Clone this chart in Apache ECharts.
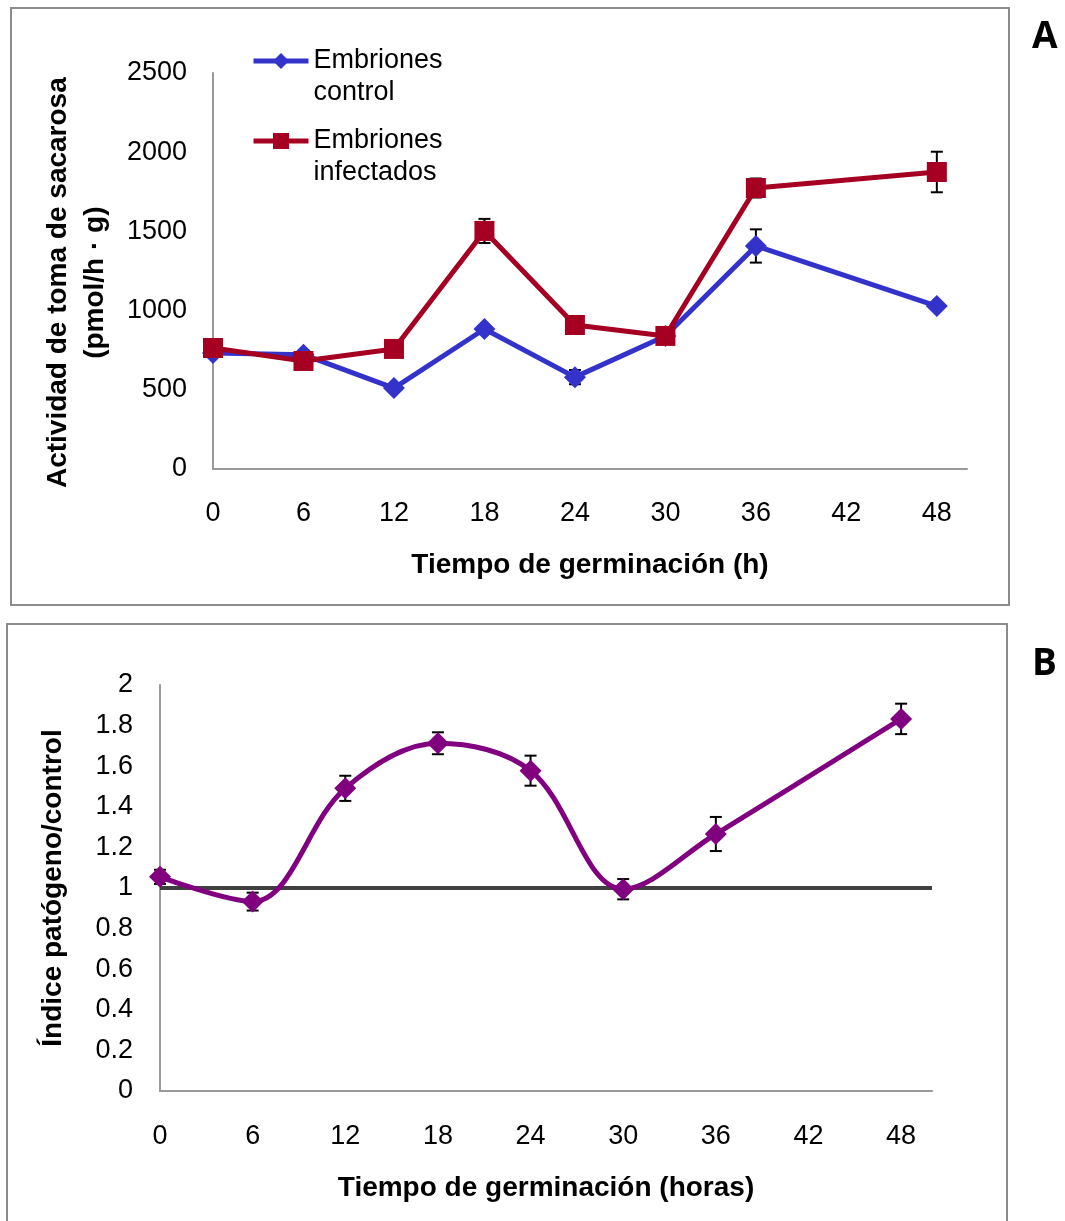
<!DOCTYPE html>
<html>
<head>
<meta charset="utf-8">
<script src="https://cdn.jsdelivr.net/npm/echarts@6/dist/echarts.min.js"></script>
<style>
html,body{margin:0;padding:0;background:#fff;}
#chart{width:1065px;height:1221px;}
</style>
</head>
<body>
<div id="chart"></div>
<script>
// ---- Data ----
var hours = [0, 6, 12, 18, 24, 30, 36, 48];
var xTicks = [0, 6, 12, 18, 24, 30, 36, 42, 48];
var controlVals = [732, 722, 511, 884, 580, 840, 1408, 1029];
var controlErr = [20, 25, 20, 20, 45, 20, 105, 20];
var infectedVals = [764, 682, 758, 1503, 909, 840, 1774, 1875];
var infectedErr = [20, 20, 20, 76, 20, 20, 60, 128];
var ratioVals = [1.055, 0.933, 1.491, 1.713, 1.578, 0.994, 1.266, 1.833];
var ratioErr = [0.035, 0.044, 0.062, 0.054, 0.074, 0.05, 0.084, 0.075];
var refLine = [[0, 1], [50, 1]];
var seriesNames = ['Embriones control', 'Embriones infectados'];
var legendLabels = { 'Embriones control': 'Embriones\ncontrol', 'Embriones infectados': 'Embriones\ninfectados' };

var FONT = '"Liberation Sans", Arial, sans-serif';

function pairs(xs, ys) { return xs.map(function (x, i) { return [x, ys[i]]; }); }
function errData(xs, ys, es) { return xs.map(function (x, i) { return [x, ys[i] - es[i], ys[i] + es[i]]; }); }

function errorSeries(xi, yi, data) {
  return {
    type: 'custom', xAxisIndex: xi, yAxisIndex: yi, z: 1, silent: true,
    data: data,
    renderItem: function (params, api) {
      var x = api.value(0);
      var lo = api.coord([x, api.value(1)]);
      var hi = api.coord([x, api.value(2)]);
      var w = 6;
      var st = { stroke: '#000', lineWidth: 2 };
      return {
        type: 'group',
        children: [
          { type: 'line', shape: { x1: lo[0], y1: lo[1], x2: hi[0], y2: hi[1] }, style: st },
          { type: 'line', shape: { x1: lo[0] - w, y1: lo[1], x2: lo[0] + w, y2: lo[1] }, style: st },
          { type: 'line', shape: { x1: hi[0] - w, y1: hi[1], x2: hi[0] + w, y2: hi[1] }, style: st }
        ]
      };
    }
  };
}

var axisLabelStyle = { color: '#000', fontSize: 27, fontFamily: FONT };
var nameStyle = { color: '#000', fontSize: 28, fontWeight: 'bold', fontFamily: FONT };
var axisLine = { show: true, lineStyle: { color: '#999', width: 2 } };
var xFmt = function (v) { return xTicks.indexOf(v) >= 0 ? String(v) : ''; };
var pad = '\u00a0\u00a0\u00a0';

var chart = echarts.init(document.getElementById('chart'), null, { renderer: 'canvas' });
chart.setOption({
  backgroundColor: '#fff',
  animation: false,
  graphic: [
    { type: 'rect', shape: { x: 11, y: 8, width: 998, height: 597 }, style: { fill: 'none', stroke: '#8c8c8c', lineWidth: 2 }, z: -1 },
    { type: 'rect', shape: { x: 7, y: 624, width: 1000, height: 610 }, style: { fill: 'none', stroke: '#8c8c8c', lineWidth: 2 }, z: -1 },
    { type: 'text', left: 1032, top: 19, style: { text: 'A', fontSize: 37, fontWeight: 'bold', fontFamily: '"Open Sans", sans-serif', fill: '#000' } },
    { type: 'text', left: 1032, top: 646, style: { text: 'B', fontSize: 37, fontWeight: 'bold', fontFamily: '"Open Sans", sans-serif', fill: '#000' } }
  ],
  legend: {
    data: seriesNames,
    orient: 'vertical',
    left: 251, top: 13, padding: 0,
    itemWidth: 55, itemHeight: 20, itemGap: -16,
    formatter: function (n) { return ' \n' + legendLabels[n]; },
    lineStyle: { width: 5 },
    textStyle: { color: '#000', fontSize: 27, fontFamily: FONT, lineHeight: 32 },
    selectedMode: false
  },
  grid: [
    { left: 213, top: 73, width: 754, height: 396 },
    { left: 160, top: 685, width: 772, height: 406 }
  ],
  xAxis: [
    {
      gridIndex: 0, type: 'value', min: 0, max: 50, interval: 6,
      name: 'Tiempo de germinación (h)', nameLocation: 'middle', nameGap: 82, nameTextStyle: nameStyle,
      axisLine: axisLine, axisTick: { show: false }, splitLine: { show: false },
      axisLabel: Object.assign({ margin: 31, showMaxLabel: false, formatter: xFmt }, axisLabelStyle)
    },
    {
      gridIndex: 1, type: 'value', min: 0, max: 50, interval: 6,
      name: 'Tiempo de germinación (horas)', nameLocation: 'middle', nameGap: 83, nameTextStyle: nameStyle,
      axisLine: axisLine, axisTick: { show: false }, splitLine: { show: false },
      axisLabel: Object.assign({ margin: 32, showMaxLabel: false, formatter: xFmt }, axisLabelStyle)
    }
  ],
  yAxis: [
    {
      gridIndex: 0, type: 'value', min: 0, max: 2500, interval: 500,
      name: 'Actividad de toma de sacarosa' + pad + '\n(pmol/h · g)' + pad, nameLocation: 'middle', nameGap: 99, nameRotate: 90,
      nameTextStyle: Object.assign({ lineHeight: 37 }, nameStyle),
      axisLine: axisLine, axisTick: { show: false }, splitLine: { show: false },
      axisLabel: Object.assign({ margin: 26, formatter: function (v) { return String(v); } }, axisLabelStyle)
    },
    {
      gridIndex: 1, type: 'value', min: 0, max: 2, interval: 0.2,
      name: 'Índice patógeno/control', nameLocation: 'middle', nameGap: 93, nameRotate: 90,
      nameTextStyle: nameStyle,
      axisLine: axisLine, axisTick: { show: false }, splitLine: { show: false },
      axisLabel: Object.assign({ margin: 27, formatter: function (v) { return String(Math.round(v * 10) / 10); } }, axisLabelStyle)
    }
  ],
  series: [
    errorSeries(0, 0, errData(hours, controlVals, controlErr)),
    errorSeries(0, 0, errData(hours, infectedVals, infectedErr)),
    {
      name: seriesNames[0], type: 'line', xAxisIndex: 0, yAxisIndex: 0, z: 3,
      data: pairs(hours, controlVals),
      symbol: 'diamond', symbolSize: 22,
      lineStyle: { color: '#3333CC', width: 5 },
      itemStyle: { color: '#3333CC' }
    },
    {
      name: seriesNames[1], type: 'line', xAxisIndex: 0, yAxisIndex: 0, z: 4,
      data: pairs(hours, infectedVals),
      symbol: 'rect', symbolSize: 20,
      lineStyle: { color: '#A50021', width: 5 },
      itemStyle: { color: '#A50021' }
    },
    {
      type: 'line', xAxisIndex: 1, yAxisIndex: 1, z: 2, silent: true,
      data: refLine, symbol: 'none',
      lineStyle: { color: '#404040', width: 4 }
    },
    errorSeries(1, 1, errData(hours, ratioVals, ratioErr)),
    {
      type: 'line', xAxisIndex: 1, yAxisIndex: 1, z: 4,
      data: pairs(hours, ratioVals), smooth: 0.35,
      symbol: 'diamond', symbolSize: 22,
      lineStyle: { color: '#800080', width: 5 },
      itemStyle: { color: '#800080' }
    }
  ]
});
</script>
</body>
</html>
